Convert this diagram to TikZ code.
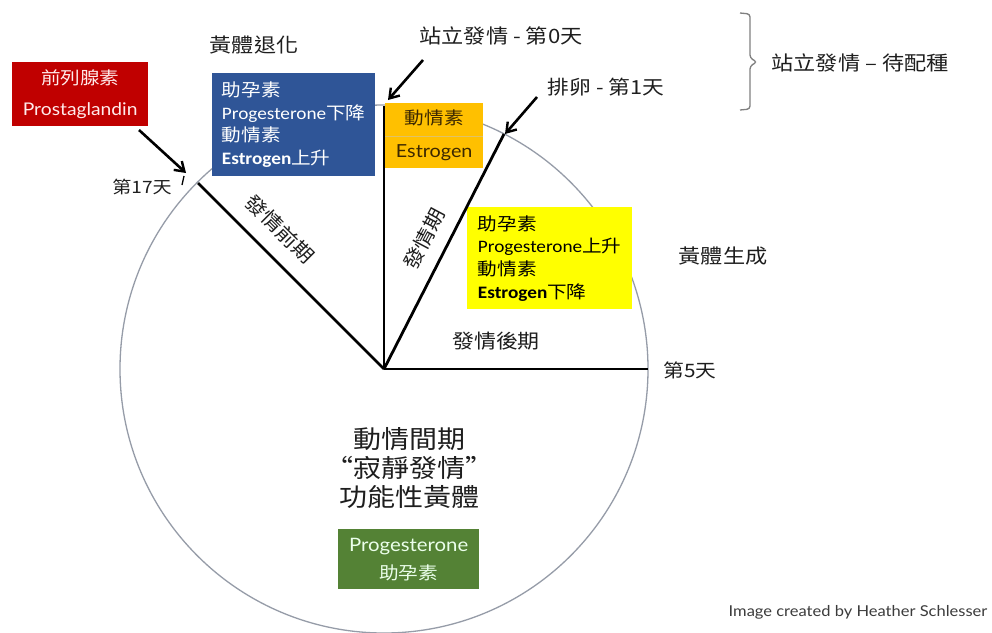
\documentclass[tikz,border=0pt]{standalone}
\usepackage{fontspec}
\setmainfont[FakeStretch=1.12]{Noto Sans CJK TC}
\newfontfamily\calf[FakeStretch=1.1]{Carlito}
\newfontfamily\rhf[FakeStretch=1.1]{Lato}
\usetikzlibrary{arrows.meta}
\definecolor{redbox}{RGB}{192,0,0}
\definecolor{bluebox}{RGB}{47,85,151}
\definecolor{orangebox}{RGB}{255,192,0}
\definecolor{yellowbox}{RGB}{255,255,0}
\definecolor{greenbox}{RGB}{84,130,53}
\definecolor{circgray}{RGB}{150,156,168}
\definecolor{txt}{RGB}{30,30,30}
\tikzset{
  box/.style={inner sep=0pt, anchor=north west},
  lbl/.style={inner sep=0pt, text=txt},
  radial/.style={line width=2.8pt, black},
  pointer/.style={line width=2.6pt, black, -{Straight Barb[length=9pt,width=12pt,line width=2.4pt]}},
}
\begin{document}
\begin{tikzpicture}[x=1pt,y=-1pt]
\useasboundingbox (0,0) rectangle (992,632);
\fill[white] (0,0) rectangle (992,632);
% geometry
\coordinate (O) at (384,369);
\coordinate (E17) at (198,183);
\coordinate (E0) at (384,106);
\coordinate (E1) at (504,134);
\coordinate (E5) at (648,369);
\draw[circgray, line width=1.3pt] (O) circle[radius=264];
% boxes
\node[box, fill=redbox, minimum width=136pt, minimum height=64pt, text=white!92!red, align=center,
      font=\fontsize{17.5}{30}\selectfont] (red) at (12,62)
  {前列腺素\\{\rhf\fontsize{17.5}{30}\selectfont Prostaglandin}};
\node[box, fill=bluebox, minimum width=163pt, minimum height=103pt, text=white, align=left,
      font=\fontsize{17.5}{22.7}\selectfont] (blue) at (212,73)
  {助孕素\\{\calf\fontsize{17.5}{22.7}\selectfont Progesterone}下降\\動情素\\{\calf\bfseries\fontsize{17.5}{22.7}\selectfont Estrogen}上升};
\node[box, fill=orangebox, minimum width=98pt, minimum height=65pt, text={rgb,255:red,60;green,40;blue,0}, align=center,
      font=\fontsize{17.5}{33}\selectfont] (orange) at (385,103)
  {動情素\\{\rhf\fontsize{18}{33}\selectfont Estrogen}};
\draw[orangebox!80!black!60!white, line width=0.4pt] (orange.west) -- (orange.east);
\node[box, fill=yellowbox, minimum width=165pt, minimum height=102pt, text=black, align=left,
      font=\fontsize{17.5}{22.7}\selectfont] (yellow) at (467,207)
  {助孕素\\{\calf\fontsize{17.5}{22.7}\selectfont Progesterone}上升\\動情素\\{\calf\bfseries\fontsize{17.5}{22.7}\selectfont Estrogen}下降};
\node[box, fill=greenbox, minimum width=141pt, minimum height=60pt, text=white!92!green, align=center,
      font=\fontsize{17.5}{28}\selectfont] (green) at (338,529)
  {{\rhf\fontsize{18.5}{28}\selectfont Progesterone}\\助孕素};
% radial lines
\draw[radial] (O) -- (E17);
\draw[radial] (O) -- (E0);
\draw[radial] (O) -- (E1);
\draw[radial] (O) -- (E5);
% labels
\node[lbl, font=\fontsize{19.7}{22}\selectfont] (tuihua) at (254,45) {黃體退化};
\node[lbl, font=\fontsize{19.8}{22}\selectfont] (day0) at (501,36) {站立發情 - 第0天};
\node[lbl, font=\fontsize{19.4}{22}\selectfont] (day1) at (606,87) {排卵 - 第1天};
\node[lbl, font=\fontsize{19.8}{22}\selectfont] (wait) at (860,63) {站立發情 – 待配種};
\node[lbl, font=\fontsize{19.8}{22}\selectfont] (shengcheng) at (723,256) {黃體生成};
\node[lbl, font=\fontsize{18.5}{20}\selectfont] (day5) at (690,370) {第5天};
\node[lbl, font=\fontsize{17}{20}\selectfont] (day17) at (142,187) {第17天};
\node[lbl, font=\fontsize{19.6}{22}\selectfont] (houqi) at (496,341) {發情後期};
\node[lbl, font=\fontsize{19.5}{22}\selectfont, rotate=-45] (qianqi) at (280,229) {發情前期};
\node[lbl, font=\fontsize{19.5}{22}\selectfont, rotate=62] (qingqi) at (424,239) {發情期};
\node[lbl, align=center, font=\fontsize{25}{28.8}\selectfont] (jianqi) at (409,468) {動情間期\\“寂靜發情”\\功能性黃體};
\node[lbl, text={rgb,255:red,60;green,60;blue,60}, font=\rhf\fontsize{15}{18}\selectfont] (credit) at (858,612) {Image created by Heather Schlesser};
% pointers
\coordinate (a1s) at (139,130); \coordinate (a1e) at (186,173);
\coordinate (a2s) at (423,60);  \coordinate (a2e) at (388,100);
\coordinate (a3s) at (537,97);  \coordinate (a3e) at (505,134);
\draw[pointer] (a1s) -- (a1e);
\draw[pointer] (a2s) -- (a2e);
\draw[pointer] (a3s) -- (a3e);
% small tick after day 17
\draw[black, line width=1.3pt] (184,176) -- (182,185);
% bracket
\draw[gray, line width=1.3pt, rounded corners=3pt] (740,13) -- (750,14) -- (750,58) -- (757,62) -- (750,66) -- (750,109) -- (740,110);
\end{tikzpicture}
\end{document}
